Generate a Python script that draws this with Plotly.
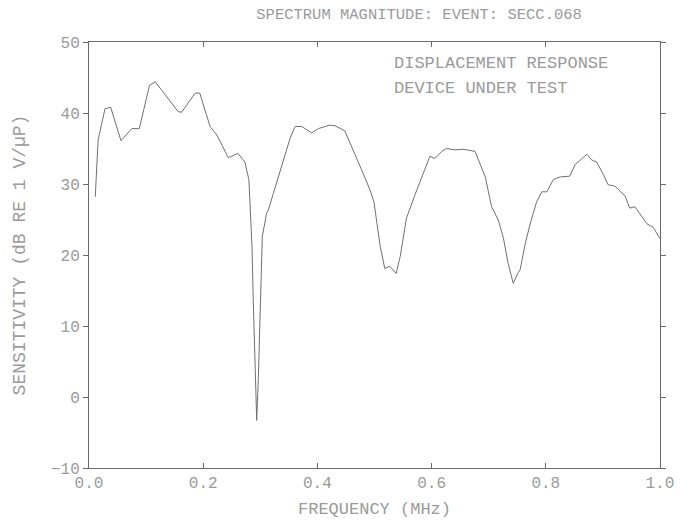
import plotly.graph_objects as go

freq = [0.011, 0.016, 0.028, 0.038, 0.056, 0.075, 0.088, 0.106, 0.116, 0.156, 0.162,
        0.186, 0.194, 0.212, 0.224, 0.244, 0.261, 0.273, 0.280, 0.282, 0.2855, 0.2875,
        0.290, 0.2937, 0.2965, 0.2995, 0.301, 0.3035, 0.311, 0.314, 0.323, 0.352, 0.361,
        0.3725, 0.390, 0.4016, 0.422, 0.431, 0.448, 0.469, 0.480, 0.492, 0.499, 0.510,
        0.518, 0.527, 0.538, 0.545, 0.556, 0.571, 0.585, 0.597, 0.606, 0.618, 0.626,
        0.641, 0.655, 0.676, 0.694, 0.705, 0.717, 0.726, 0.734, 0.743, 0.752, 0.755,
        0.764, 0.772, 0.784, 0.793, 0.802, 0.813, 0.825, 0.842, 0.851, 0.872, 0.880,
        0.889, 0.901, 0.909, 0.921, 0.939, 0.947, 0.956, 0.977, 0.988, 1.000]
mag = [28.2, 36.2, 40.6, 40.8, 36.1, 37.8, 37.8, 43.9, 44.4, 40.2, 40.1,
       42.8, 42.8, 38.1, 36.9, 33.7, 34.3, 33.1, 30.6, 27.7, 21.2, 14.1,
       8.0, -3.3, 2.4, 9.9, 16.5, 22.6, 25.9, 26.3, 28.7, 36.4, 38.1,
       38.1, 37.2, 37.8, 38.3, 38.2, 37.5, 33.4, 31.5, 29.2, 27.5, 21.2,
       18.1, 18.4, 17.4, 19.8, 25.2, 28.5, 31.5, 33.9, 33.6, 34.6, 35.0,
       34.8, 34.9, 34.6, 31.0, 26.8, 24.9, 22.3, 18.8, 16.0, 17.6, 17.9,
       21.6, 24.2, 27.5, 28.9, 28.9, 30.6, 31.0, 31.1, 32.7, 34.2, 33.4,
       33.1, 31.3, 29.9, 29.7, 28.3, 26.6, 26.8, 24.4, 23.9, 22.3]

x_ticks = [0.0, 0.2, 0.4, 0.6, 0.8, 1.0]
x_labels = ["0.0", "0.2", "0.4", "0.6", "0.8", "1.0"]
y_ticks = [-10, 0, 10, 20, 30, 40, 50]
y_labels = ["\u221210", "0", "10", "20", "30", "40", "50"]

FONT = "Liberation Mono"
TXT = "#9a9a9a"
LINE = "#6a6a6a"

fig = go.Figure()
fig.add_trace(go.Scatter(x=freq, y=mag, mode="lines",
                         line=dict(color="#707070", width=1), showlegend=False))

fig.update_layout(
    width=695, height=520,
    margin=dict(l=89, r=35, t=42, b=52),
    paper_bgcolor="white", plot_bgcolor="white",
    font=dict(family=FONT, color=TXT, size=15),
    title=dict(text="SPECTRUM MAGNITUDE: EVENT: SECC.068", x=0.603, xanchor="center",
               y=0.974, yanchor="middle", font=dict(family=FONT, size=15.5, color=TXT)),
    xaxis=dict(range=[0, 1], tickvals=x_ticks, ticktext=x_labels, showgrid=False,
               zeroline=False, showline=True, linecolor=LINE, linewidth=1, mirror="ticks",
               ticks="inside", ticklen=5, tickcolor=LINE, automargin=False,
               tickfont=dict(family=FONT, size=16, color=TXT),
               title=dict(text="FREQUENCY (MHz)", standoff=9,
                          font=dict(family=FONT, size=17, color=TXT))),
    yaxis=dict(range=[-10, 50], tickvals=y_ticks, ticktext=y_labels, showgrid=False,
               zeroline=False, showline=True, linecolor=LINE, linewidth=1, mirror="ticks",
               ticks="outside", ticklen=5, tickcolor=LINE, automargin=False,
               tickfont=dict(family=FONT, size=16, color=TXT),
               title=dict(text="SENSITIVITY (dB RE 1 V/\u00b5P)", standoff=20,
                          font=dict(family=FONT, size=18, color=TXT))),
)

fig.add_annotation(xref="paper", yref="paper", x=0.53, y=0.95, xanchor="left",
                   yanchor="middle", showarrow=False, align="left",
                   text="DISPLACEMENT RESPONSE",
                   font=dict(family=FONT, size=17, color=TXT))
fig.add_annotation(xref="paper", yref="paper", x=0.53, y=0.891, xanchor="left",
                   yanchor="middle", showarrow=False, align="left",
                   text="DEVICE UNDER TEST",
                   font=dict(family=FONT, size=17, color=TXT))

fig.write_html("out.html")
